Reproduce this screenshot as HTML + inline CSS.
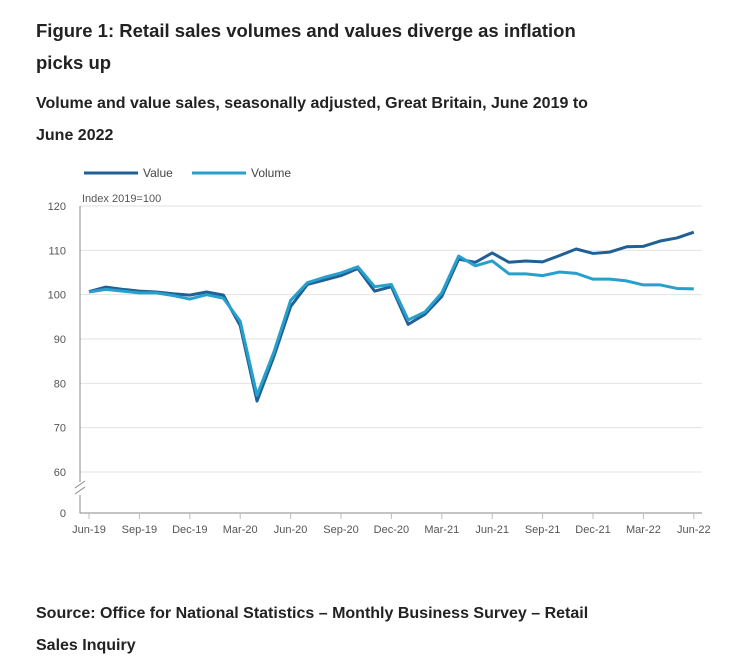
<!DOCTYPE html>
<html><head><meta charset="utf-8"><style>
body{margin:0;background:#fff;font-family:"Liberation Sans",sans-serif;color:#222;}
.t{position:absolute;left:36px;font-weight:bold;margin:0;}
</style></head><body>
<div style="position:relative;width:744px;height:659px;overflow:hidden">
<h1 class="t" style="top:15px;font-size:18.5px;line-height:32px;width:580px">Figure 1: Retail sales volumes and values diverge as inflation picks up</h1>
<h2 class="t" style="top:88px;font-size:16px;line-height:32px;width:585px">Volume and value sales, seasonally adjusted, Great Britain, June 2019 to June 2022</h2>
<svg id="c" width="744" height="659" style="position:absolute;left:0;top:0" font-family="Liberation Sans, sans-serif"></svg>
<p class="t" style="top:598px;font-size:16px;line-height:32px;width:580px">Source: Office for National Statistics – Monthly Business Survey – Retail Sales Inquiry</p>
</div>
<script>
const months=37;
const valueSeries=[100.7,101.7,101.2,100.8,100.6,100.2,99.9,100.6,99.9,93,76,86,97.3,102.3,103.3,104.3,105.9,100.8,101.8,93.3,95.6,99.6,108,107.3,109.4,107.3,107.6,107.4,108.8,110.3,109.3,109.6,110.8,110.9,112.1,112.8,114.1];
const volumeSeries=[100.6,101.2,100.8,100.4,100.4,99.8,99.0,100.0,99.2,94,77.3,87,98.7,102.7,103.9,104.9,106.3,101.8,102.3,94.3,96.1,100.4,108.7,106.5,107.6,104.7,104.7,104.3,105.1,104.8,103.5,103.5,103.1,102.2,102.2,101.4,101.3];
const yTicks=[60,70,80,90,100,110,120];
const xTickLabels=["Jun-19","Sep-19","Dec-19","Mar-20","Jun-20","Sep-20","Dec-20","Mar-21","Jun-21","Sep-21","Dec-21","Mar-22","Jun-22"];
const svg=document.getElementById('c');const NS='http://www.w3.org/2000/svg';
function X(i){return 89+i*16.8;}
function Y(v){return 206+(120-v)*4.433;}
function mk(t,a,p){const e=document.createElementNS(NS,t);for(const k in a)e.setAttribute(k,a[k]);(p||svg).appendChild(e);return e;}
yTicks.forEach(v=>{
 const l=mk('line',{x1:80,x2:702,y1:Y(v),y2:Y(v),stroke:'#e2e2e2'});
 
 
 const t=mk('text',{x:66,y:Y(v)+4,'font-size':11,fill:'#555','text-anchor':'end'});t.textContent=v;
 
 
});
const z=mk('text',{x:66,y:517,'font-size':11,fill:'#555','text-anchor':'end'});z.textContent='0';


const ax=mk('path',{d:'M80 206V482M80 495V513H702',stroke:'#888',fill:'none'});


const br=mk('path',{d:'M75 488L85 481M75 494L85 487',stroke:'#888',fill:'none'});


const yt=mk('text',{x:82,y:202,'font-size':11,fill:'#555'});yt.textContent='Index 2019=100';


xTickLabels.forEach((s,k)=>{
 const x=X(k*3);
 mk('line',{x1:x,x2:x,y1:513,y2:519,stroke:'#bbb'});
 const t=mk('text',{x:x,y:533,'font-size':11,fill:'#555','text-anchor':'middle'});t.textContent=s;
 
 
});
function line(d,c,n){const p=mk('polyline',{points:d.map((v,i)=>X(i)+','+Y(v)).join(' '),fill:'none',stroke:c,'stroke-width':3,'stroke-linejoin':'round'});
 
 }
line(valueSeries,'#206095','value-line');
line(volumeSeries,'#27a0cc','volume-line');
[['Value','#206095',84],['Volume','#27a0cc',192]].forEach(([s,c,x])=>{
 const g=mk('g',{});
 
 
 mk('line',{x1:x,x2:x+54,y1:173,y2:173,stroke:c,'stroke-width':3},g);
 const t=mk('text',{x:x+59,y:177,'font-size':12,fill:'#444'},g);t.textContent=s;
});
</script>
</body></html>
